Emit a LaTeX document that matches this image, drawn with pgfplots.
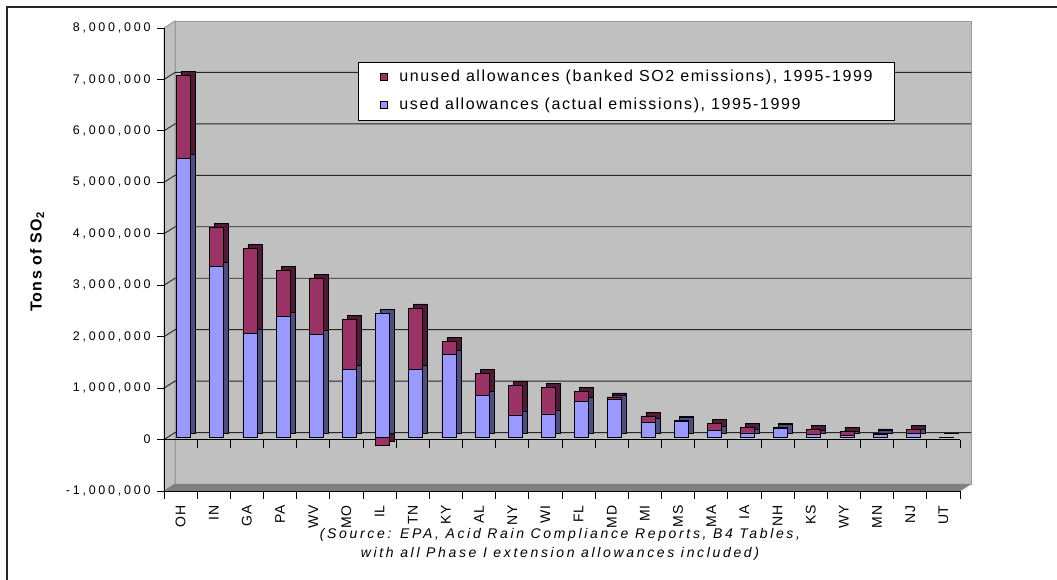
\documentclass[border=0pt]{standalone}
\usepackage{fontspec}
\setmainfont{Liberation Sans}
\newfontfamily\ytickfont[LetterSpace=22]{Liberation Sans}
\newfontfamily\xtickfont[LetterSpace=5]{Liberation Sans}
\newfontfamily\legfont[LetterSpace=10]{Liberation Sans}
\newfontfamily\labfont[LetterSpace=8]{Liberation Sans}
\newfontfamily\srcfont[LetterSpace=19]{Liberation Sans}
\usepackage{pgfplots}
\usepackage{pgfplotstable}
\pgfplotsset{compat=1.18}

\definecolor{unusedc}{HTML}{993366}
\definecolor{unusedside}{HTML}{4F1A35}
\definecolor{usedc}{HTML}{9999FF}
\definecolor{usedside}{HTML}{4D4D80}
\definecolor{wall}{HTML}{C0C0C0}
\definecolor{floorc}{HTML}{808080}
\definecolor{edge}{HTML}{9A9A9A}

% tons of SO2 by state, 1995-1999
\pgfplotstableread{
x state used unused
0 OH 5420000 1620000
1 IN 3330000 760000
2 GA 2030000 1640000
3 PA 2360000 890000
4 WV 2000000 1090000
5 MO 1320000 970000
6 IL 2410000 -150000
7 TN 1320000 1200000
8 KY 1610000 260000
9 AL 820000 420000
10 NY 440000 570000
11 WI 460000 520000
12 FL 710000 190000
13 MD 740000 50000
14 MI 290000 120000
15 MS 320000 20000
16 MA 140000 140000
17 IA 90000 110000
18 NH 180000 10000
19 KS 60000 90000
20 WY 40000 80000
21 MN 60000 30000
22 NJ 80000 80000
23 UT 0 10000
}\sodata

\pgfplotsset{
  mybar/.style={ybar, bar width=14pt, bar shift=0pt, draw=black, line width=0.7pt,
    legend image code/.code={\draw[##1, xshift=-3pt, yshift=-2pt, draw=black, line width=0.6pt] (0pt,-3.5pt) rectangle (7pt,3.5pt);
      \path[draw=none, fill=none] (0pt,0pt) -- (16pt,0pt);}},
  front/.style={mybar, xshift=3pt, yshift=2pt},
  side/.style={mybar, xshift=8pt, yshift=6pt, forget plot},
}

\begin{document}
\begin{tikzpicture}[x=1pt,y=1pt]
\begin{axis}[
  at={(164pt,88pt)}, anchor=south west,
  scale only axis, width=796pt, height=463pt,
  xmin=-0.5, xmax=23.5, ymin=-1000000, ymax=8000000,
  clip=false, set layers=standard,
  axis x line*=bottom, axis y line*=left,
  axis line style={black, line width=0.8pt},
  tick align=outside, major tick length=7pt,
  tick style={black, line width=0.8pt},
  xtick={0,...,23}, xticklabels from table={\sodata}{state},
  xtick style={draw=none},
  xticklabel style={rotate=90, anchor=east, font=\xtickfont\fontsize{14}{16}\selectfont},
  xticklabel shift=4pt,
  ytick={-1000000,0,1000000,2000000,3000000,4000000,5000000,6000000,7000000,8000000},
  scaled y ticks=false,
  yticklabel style={font=\ytickfont\fontsize{12.5}{15}\selectfont, xshift=-3pt,
    /pgf/number format/fixed,
    /pgf/number format/1000 sep={,}, /pgf/number format/assume math mode=true},
  legend style={at={(0.2437,0.9266)}, anchor=north west, draw=black, fill=white,
    font=\legfont\fontsize{16}{18}\selectfont, inner xsep=22pt, inner ysep=7pt,
    nodes={inner sep=0pt, text height=12pt, text depth=4pt},
    row sep=12pt},
  legend cell align=left,
]
\begin{pgfonlayer}{axis background}
  % back wall, side wall, floor
  \filldraw[fill=wall, draw=edge, line width=1pt]
    ([xshift=11pt,yshift=7pt]axis cs:-0.5,-1000000) rectangle ([xshift=11pt,yshift=7pt]axis cs:23.5,8000000);
  \filldraw[fill=wall, draw=edge, line width=1pt]
    (axis cs:-0.5,-1000000) -- (axis cs:-0.5,8000000) -- ([xshift=11pt,yshift=7pt]axis cs:-0.5,8000000)
    -- ([xshift=11pt,yshift=7pt]axis cs:-0.5,-1000000) -- cycle;
  \filldraw[fill=floorc, draw=floorc]
    (axis cs:-0.5,-1000000) -- (axis cs:23.5,-1000000) -- ([xshift=11pt,yshift=7pt]axis cs:23.5,-1000000)
    -- ([xshift=11pt,yshift=7pt]axis cs:-0.5,-1000000) -- cycle;
  \pgfplotsinvokeforeach{0,...,7}{
    \draw[black!85, line width=0.9pt] (axis cs:-0.5,#1000000) -- ([xshift=11pt,yshift=7pt]axis cs:-0.5,#1000000)
      -- ([xshift=11pt,yshift=7pt]axis cs:23.5,#1000000);
  }
  \draw[black, line width=0.8pt] (axis cs:-0.5,0) -- (axis cs:23.5,0);
  \pgfplotsinvokeforeach{-0.5,0.5,...,23.5}{
    \draw[black, line width=0.8pt] (axis cs:#1,0) -- ([yshift=-8pt]axis cs:#1,0);
    \draw[black, line width=0.8pt] (axis cs:#1,-1000000) -- ([yshift=-8pt]axis cs:#1,-1000000);
  }
\end{pgfonlayer}

% depth faces
\addplot[side, fill=unusedside] table[x=x, y expr={\thisrow{used}+max(\thisrow{unused},0)}] {\sodata};
\addplot[side, fill=usedside] table[x=x, y=used] {\sodata};
\addplot[side, fill=unusedside, restrict y to domain=-2000000:-1] table[x=x, y=unused] {\sodata};
% front faces
\addplot[front, fill=unusedc] table[x=x, y expr={\thisrow{used}+max(\thisrow{unused},0)}] {\sodata};
\addlegendentry{unused allowances (banked SO2 emissions), 1995-1999}
\addplot[front, fill=usedc] table[x=x, y=used] {\sodata};
\addlegendentry{used allowances (actual emissions), 1995-1999}
\addplot[front, fill=unusedc, restrict y to domain=-2000000:-1, forget plot] table[x=x, y=unused] {\sodata};
\end{axis}

\node[rotate=90, font=\labfont\bfseries\fontsize{16}{18}\selectfont] at (37pt,317pt) {Tons of SO\textsubscript{2}};
\node[align=center, font=\srcfont\itshape\fontsize{14}{19}\selectfont] at (560pt,35pt)
  {(Source: EPA, Acid Rain Compliance Reports, B4 Tables,\\with all Phase I extension allowances included)};
\draw[line width=1.2pt, black!85] (7pt,-10pt) -- (7pt,572pt) -- (1070pt,572pt);

\pgfresetboundingbox
\path[use as bounding box] (0,0) rectangle (1057pt,579pt);
\end{tikzpicture}
\end{document}
